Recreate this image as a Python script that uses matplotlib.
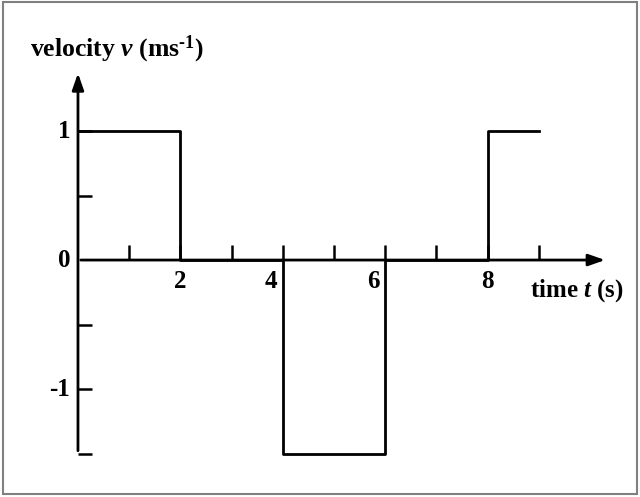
import matplotlib
matplotlib.use('Agg')
import matplotlib.pyplot as plt
from matplotlib.patches import Rectangle

################ data ################
t = [0, 2, 2, 4, 4, 6, 6, 8, 8, 9]
v = [1, 1, 0, 0, -1.5, -1.5, 0, 0, 1, 1]
x_ticks = [1, 2, 3, 4, 5, 6, 7, 8, 9]
y_ticks = [1, 0.5, -0.5, -1, -1.5]
x_labels = ['2', '4', '6', '8']
x_label_pos = [2, 3.77, 5.76, 8]
y_labels = ['1', '0', '-1']
y_label_pos = [1, 0, -1]

plt.rcParams['font.family'] = 'Liberation Serif'
plt.rcParams['font.weight'] = 'bold'
plt.rcParams['mathtext.fontset'] = 'custom'
plt.rcParams['mathtext.rm'] = 'Liberation Serif:bold'
plt.rcParams['mathtext.it'] = 'Liberation Serif:italic:bold'
plt.rcParams['mathtext.bf'] = 'Liberation Serif:bold'

fig = plt.figure(figsize=(6.4, 4.97), dpi=100)
ax = fig.add_axes([0, 0, 1, 1])
ax.set_xlim(-1.523, 10.977)
ax.set_ylim(-1.837, 2.016)
ax.axis('off')

# grey frame round the picture
fig.patches.append(Rectangle((0.004, 0.006), 0.991, 0.99, transform=fig.transFigure,
                             fill=False, edgecolor='#808080', lw=1.5))

# axes with arrows
ax.annotate('', xy=(10.35, 0), xytext=(0, 0),
            arrowprops=dict(arrowstyle='-|>,head_length=1.0,head_width=0.35', color='black', lw=2))
ax.annotate('', xy=(0, 1.47), xytext=(0, -1.5),
            arrowprops=dict(arrowstyle='-|>,head_length=1.0,head_width=0.35', color='black', lw=2))

# ticks
for xt in x_ticks:
    ax.plot([xt, xt], [0, 0.115], color='black', lw=1.8, solid_capstyle='butt')
for yt in y_ticks:
    ax.plot([0, 0.27], [yt, yt], color='black', lw=1.8, solid_capstyle='butt')

# velocity graph
ax.plot(t, v, color='black', lw=2)

# tick labels
for s, p in zip(x_labels, x_label_pos):
    ax.text(p, -0.08, s, ha='center', va='top', fontsize=18, fontweight='bold')
for s, p in zip(y_labels, y_label_pos):
    ax.text(-0.15, p, s, ha='right', va='center', fontsize=18, fontweight='bold')

# axis titles
ax.text(-0.94, 1.63, 'velocity $v$ (ms$^{\u2010\\mathrm{1}}$)', ha='left', va='center',
        fontsize=18.5, fontweight='bold')
ax.text(8.83, -0.24, r'time $t$ (s)', ha='left', va='center', fontsize=18, fontweight='bold')

plt.savefig('out.png', dpi=100)
